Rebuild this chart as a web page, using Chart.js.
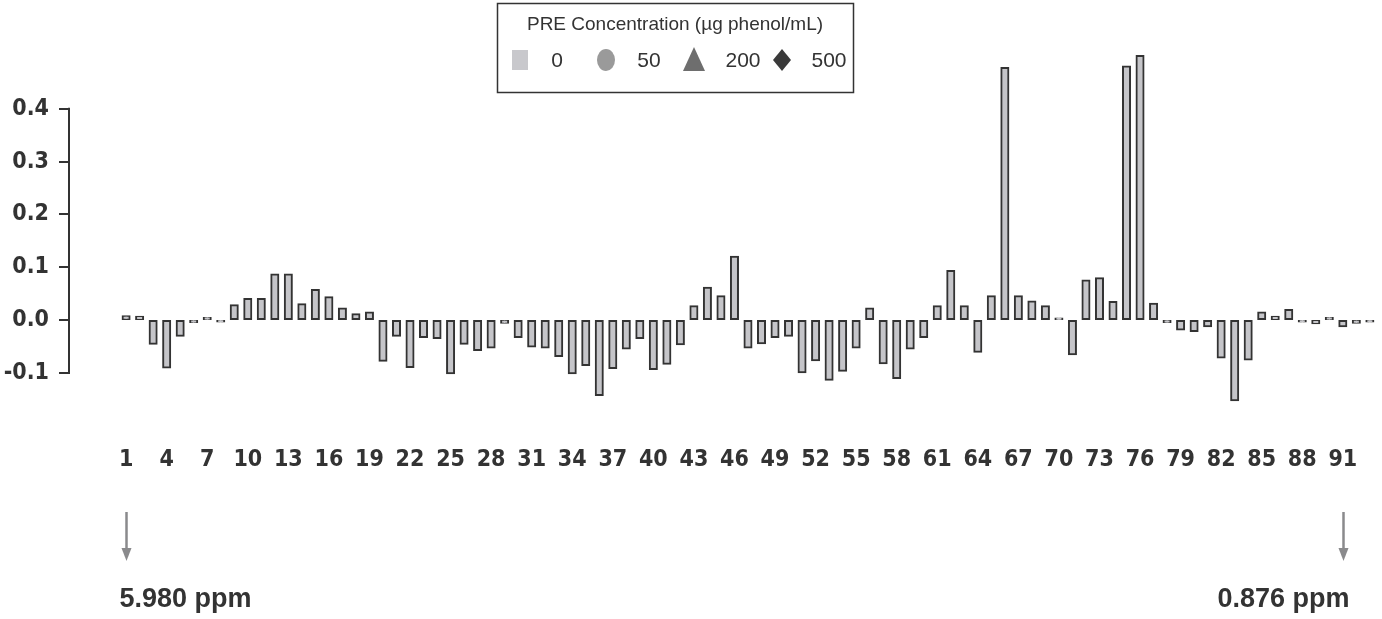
<!DOCTYPE html>
<html>
<head>
<meta charset="utf-8">
<script src="https://cdn.jsdelivr.net/npm/chart.js@4.4.1/dist/chart.umd.min.js"></script>
<style>
  html, body { margin: 0; padding: 0; background: #fff; }
</style>
</head>
<body>
<canvas id="barChart" width="1382" height="619"></canvas>
<script>
// PRE difference bars over binned 1H NMR spectrum (bins 1-93)

const binValues = [
  0.007, 0.006, -0.045, -0.090, -0.030, -0.004, 0.004, -0.003, 0.028, 0.040,
  0.040, 0.086, 0.086, 0.030, 0.057, 0.043, 0.022, 0.011, 0.014, -0.077,
  -0.030, -0.089, -0.032, -0.034, -0.101, -0.045, -0.057, -0.052, -0.005, -0.032,
  -0.050, -0.052, -0.068, -0.101, -0.085, -0.142, -0.091, -0.054, -0.034, -0.093,
  -0.083, -0.046, 0.026, 0.061, 0.045, 0.120, -0.052, -0.044, -0.032, -0.030,
  -0.099, -0.076, -0.113, -0.096, -0.052, 0.022, -0.082, -0.110, -0.054, -0.032,
  0.026, 0.093, 0.026, -0.060, 0.045, 0.477, 0.045, 0.035, 0.026, 0.003,
  -0.065, 0.075, 0.079, 0.034, 0.480, 0.500, 0.031, -0.004, -0.018, -0.021,
  -0.012, -0.071, -0.152, -0.075, 0.014, 0.006, 0.019, -0.003, -0.006, 0.004,
  -0.012, -0.005, -0.003
];
const xTickLabels = [1, 4, 7, 10, 13, 16, 19, 22, 25, 28, 31, 34, 37, 40, 43, 46,
  49, 52, 55, 58, 61, 64, 67, 70, 73, 76, 79, 82, 85, 88, 91];
const yTickValues = [-0.1, 0.0, 0.1, 0.2, 0.3, 0.4];

const legendTitle = "PRE Concentration (µg phenol/mL)";
const legendLevels = ["0", "50", "200", "500"];
const legendShapes = ["square", "circle", "triangle", "diamond"];
const legendColors = ["#c8c8cc", "#9a9a9a", "#6e6e6e", "#3a3a3a"];

const ppmBins = [1, 91];
const ppmLabels = ["5.980 ppm", "0.876 ppm"];

const narrowBold = "'Liberation Sans Narrow', 'DejaVu Sans Condensed', 'Liberation Sans', sans-serif";

// extra drawing: R-style y axis line, boxed legend, ppm arrows
const extras = {
  id: "extras",
  afterDraw(chart) {
    const ctx = chart.ctx;
    const xs = chart.scales.x, ys = chart.scales.y;
    ctx.save();

    ctx.strokeStyle = "#333";
    ctx.lineWidth = 2;
    ctx.beginPath();
    ctx.moveTo(ys.right - 1, ys.getPixelForValue(yTickValues[0]) + 1);
    ctx.lineTo(ys.right - 1, ys.getPixelForValue(yTickValues[yTickValues.length - 1]) - 1);
    ctx.stroke();

    // legend box
    ctx.lineWidth = 1.5;
    ctx.strokeStyle = "#333";
    ctx.strokeRect(497.5, 3.5, 356, 89);
    ctx.fillStyle = "#333";
    ctx.font = "19px 'Liberation Sans', Arial, sans-serif";
    ctx.textAlign = "center";
    ctx.textBaseline = "middle";
    ctx.fillText(legendTitle, 675, 25);

    const markerX = [520, 606, 694, 782];
    const textX = [557, 649, 743, 829];
    const cy = 60;
    legendLevels.forEach((lvl, i) => {
      const mx = markerX[i];
      ctx.fillStyle = legendColors[i];
      ctx.beginPath();
      if (legendShapes[i] === "square") {
        ctx.rect(mx - 8, cy - 10, 16, 20);
      } else if (legendShapes[i] === "circle") {
        ctx.ellipse(mx, cy, 9, 11, 0, 0, Math.PI * 2);
      } else if (legendShapes[i] === "triangle") {
        ctx.moveTo(mx, cy - 13);
        ctx.lineTo(mx + 11, cy + 11);
        ctx.lineTo(mx - 11, cy + 11);
        ctx.closePath();
      } else {
        ctx.moveTo(mx, cy - 11);
        ctx.lineTo(mx + 9, cy);
        ctx.lineTo(mx, cy + 11);
        ctx.lineTo(mx - 9, cy);
        ctx.closePath();
      }
      ctx.fill();
      ctx.fillStyle = "#333";
      ctx.font = "21px 'Liberation Sans', Arial, sans-serif";
      ctx.fillText(lvl, textX[i], cy + 1);
    });

    // ppm arrows under first and last labelled bins
    ppmBins.forEach((bin, i) => {
      const px = Math.round(xs.getPixelForValue(bin)) + 0.5;
      ctx.strokeStyle = "#8a8a8c";
      ctx.fillStyle = "#8a8a8c";
      ctx.lineWidth = 2.5;
      ctx.beginPath();
      ctx.moveTo(px, 512);
      ctx.lineTo(px, 549);
      ctx.stroke();
      ctx.beginPath();
      ctx.moveTo(px - 5, 548);
      ctx.lineTo(px + 5, 548);
      ctx.lineTo(px, 561);
      ctx.closePath();
      ctx.fill();

      ctx.fillStyle = "#333";
      ctx.font = "bold 27px 'Liberation Sans', Arial, sans-serif";
      ctx.textBaseline = "alphabetic";
      ctx.textAlign = i === 0 ? "left" : "right";
      ctx.fillText(ppmLabels[i], i === 0 ? px - 7 : px + 6, 607);
    });

    ctx.restore();
  }
};

const ctx = document.getElementById("barChart").getContext("2d");
new Chart(ctx, {
  type: "bar",
  data: {
    datasets: [{
      label: "PRE",
      data: binValues.map((v, i) => ({ x: i + 1, y: v })),
      backgroundColor: "#c5c5c9",
      borderColor: "#333",
      borderWidth: 2,
      borderSkipped: false,
      inflateAmount: 1,
      categoryPercentage: 1,
      barPercentage: 0.52
    }]
  },
  options: {
    responsive: false,
    animation: false,
    layout: { padding: { top: 45.4, bottom: 144.5, left: 0, right: 2 } },
    plugins: { legend: { display: false }, tooltip: { enabled: false } },
    scales: {
      x: {
        type: "linear",
        offset: false,
        min: -3.15,
        max: 93.75,
        afterBuildTicks: s => { s.ticks = xTickLabels.map(v => ({ value: v })); },
        afterFit: s => { s.height = 70; s.paddingLeft = 0; s.paddingRight = 0; },
        grid: { display: false, drawTicks: false, offset: false },
        border: { display: false },
        ticks: {
          autoSkip: false,
          maxRotation: 0,
          padding: 42,
          color: "#333",
          font: { family: narrowBold, size: 23, weight: "bold" },
          callback: v => String(v)
        }
      },
      y: {
        min: -0.16,
        max: 0.52,
        afterBuildTicks: s => { s.ticks = yTickValues.map(v => ({ value: v })); },
        afterFit: s => { s.width = 70; },
        grid: { drawOnChartArea: false, drawTicks: true, tickLength: 11, color: "#333", lineWidth: 2 },
        border: { display: false },
        ticks: {
          padding: 10,
          color: "#333",
          font: { family: narrowBold, size: 23, weight: "bold" },
          callback: v => v.toFixed(1)
        }
      }
    }
  },
  plugins: [extras]
});
</script>
</body>
</html>
